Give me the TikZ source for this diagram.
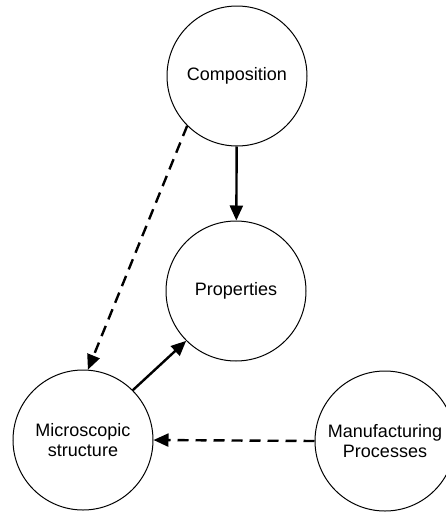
\documentclass[tikz,border=0pt]{standalone}
\usepackage{fontspec}
\setmainfont{Liberation Sans}
\usetikzlibrary{arrows.meta}
\begin{document}
\begin{tikzpicture}[x=1pt,y=-1pt,
  bubble/.style={circle,draw,line width=1pt,minimum size=140pt,inner sep=0pt,align=center,font=\fontsize{18}{20}\selectfont},
  link/.style={line width=2.4pt,-{Triangle[length=15pt,width=13pt]}},
  dlink/.style={link,dash pattern=on 11pt off 7pt}]
\useasboundingbox (0,0) rectangle (446,512);
\node[bubble] (comp) at (237,76) {Composition};
\node[bubble] (prop) at (236,291) {Properties};
\node[bubble] (micro) at (83,440) {Microscopic\\structure};
\node[bubble] (manu) at (385,441) {Manufacturing\\Processes};
\draw[link] (comp) -- (prop);
\draw[link] (micro.north east) -- (prop.south west);
\draw[dlink] (comp.south west) -- (micro.86);
\draw[dlink] (manu.west) -- (micro.east);
\end{tikzpicture}
\end{document}
